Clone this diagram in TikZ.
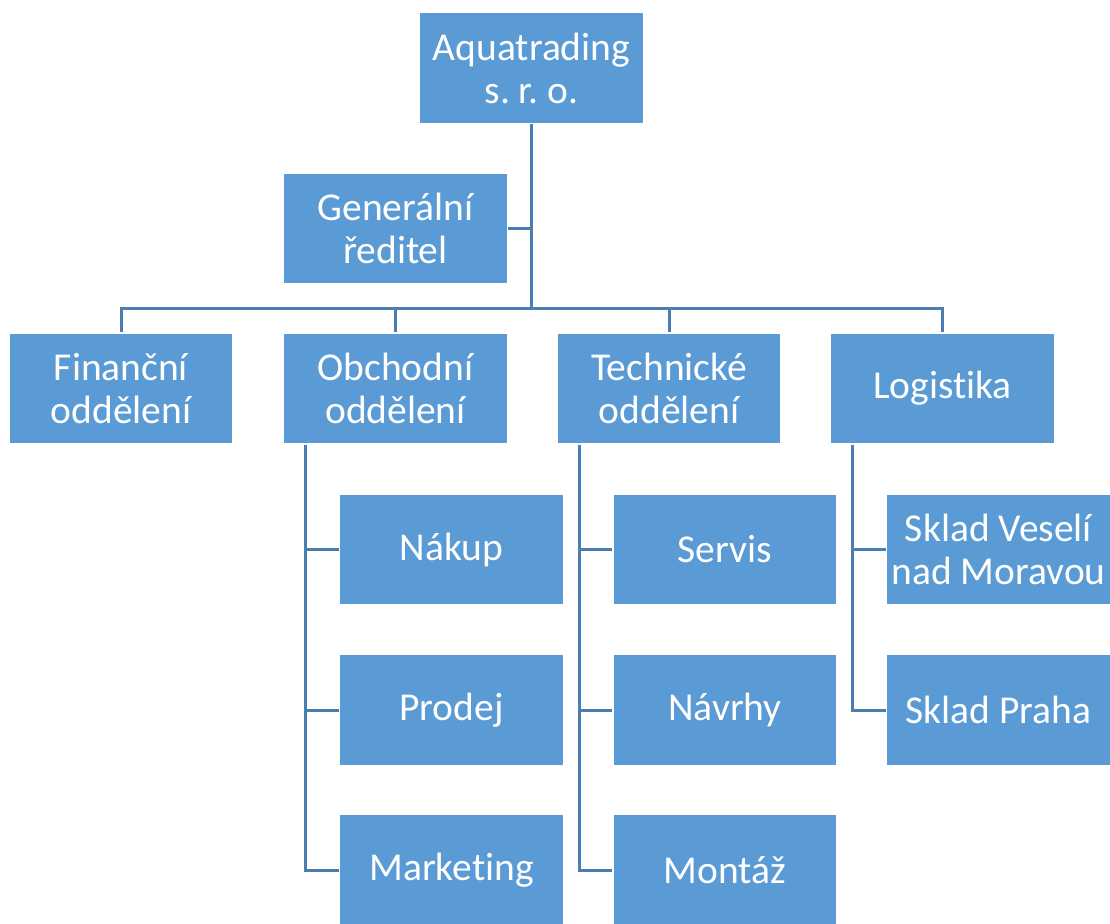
\documentclass[tikz,border=0pt]{standalone}
\usepackage{fontspec}
\setmainfont{Carlito}[Ligatures={NoCommon,NoContextual}]
\definecolor{boxblue}{HTML}{5B9BD5}
\definecolor{lineblue}{HTML}{4A7EB0}
\frenchspacing
\begin{document}
\begin{tikzpicture}[x=1pt,y=-1pt,
  box/.style={rectangle, fill=boxblue, draw=white, line width=1.5pt, minimum width=224pt, minimum height=111pt, inner sep=0pt, align=center, text=white, font=\fontsize{39.5}{43}\selectfont},
  conn/.style={draw=lineblue, line width=3pt}]
\useasboundingbox (0,0) rectangle (1110,923);
\begin{scope}
\clip (0,0) rectangle (1110,923);
% coordinates
\coordinate (bar) at (531.5,308);
\coordinate (trunkgen) at (531.5,228.5);
% connectors first
\draw[conn] (531.5,68) -- (bar);
\draw[conn] (395.5,228.5) -- (trunkgen);
\draw[conn] (121,388) |- (bar) -| (942.5,388);
\draw[conn] (395.5,308) -- (395.5,388);
\draw[conn] (669,308) -- (669,388);
\draw[conn] (305,388) |- (451,870);
\draw[conn] (305,549.5) -- (451,549.5);
\draw[conn] (305,710) -- (451,710);
\draw[conn] (579,388) |- (725,870);
\draw[conn] (579,549.5) -- (725,549.5);
\draw[conn] (579,710) -- (725,710);
\draw[conn] (852,388) |- (998,710);
\draw[conn] (852,549.5) -- (998,549.5);
% boxes
\node[box] (aqua) at (531.5,68) {Aquatrading\\s. r. o.};
\node[box] (gen) at (395.5,228.5) {Generální\\ředitel};
\node[box] (fin) at (121,388.5) {Finanční\\oddělení};
\node[box] (obch) at (395.5,388.5) {Obchodní\\oddělení};
\node[box] (tech) at (669,388.5) {Technické\\oddělení};
\node[box] (log) at (942.5,388.5) {Logistika};
\node[box] (nakup) at (451.5,549.5) {Nákup};
\node[box] (prodej) at (451.5,710) {Prodej};
\node[box] (mark) at (451.5,870) {Marketing};
\node[box] (servis) at (725,549.5) {Servis};
\node[box] (navrhy) at (725,710) {Návrhy};
\node[box] (montaz) at (725,870) {Montáž};
\node[box] (skladv) at (998.5,549.5) {Sklad Veselí\\nad Moravou};
\node[box] (skladp) at (998.5,710) {Sklad Praha};
\end{scope}
\end{tikzpicture}
\end{document}
